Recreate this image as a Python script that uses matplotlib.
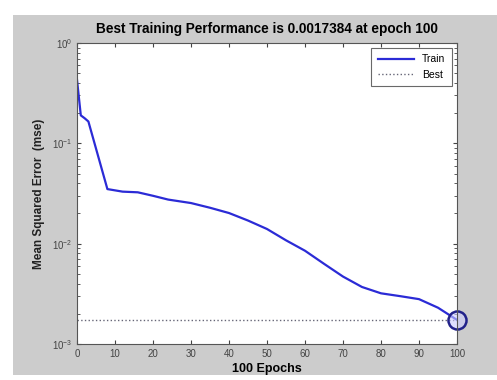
import matplotlib.pyplot as plt
import matplotlib.patches as mpatches

epochs = [0, 1, 2, 3, 8, 12, 16, 20, 24, 30, 35, 40, 45, 50, 55, 60,
          65, 70, 75, 80, 85, 90, 95, 100]
mse = [0.43, 0.19, 0.178, 0.165, 0.035, 0.033, 0.0325, 0.030, 0.0275,
       0.0254, 0.0228, 0.0202, 0.0170, 0.0140, 0.0108, 0.0085, 0.0063,
       0.0047, 0.0037, 0.0032, 0.0030, 0.0028, 0.0023, 0.0017384]
best_epoch = 100
best_mse = 0.0017384

plt.rcParams['font.family'] = ['Liberation Sans', 'DejaVu Sans']

fig = plt.figure(figsize=(4.97, 3.80), dpi=100)
fig.patch.set_facecolor('white')
# gray panel like the MATLAB window
fig.patches.append(mpatches.Rectangle((13 / 497, 5 / 380), 1 - 13 / 497, 1 - 20 / 380,
                                      transform=fig.transFigure, facecolor='#cccccc',
                                      edgecolor='none', zorder=-1))

ax = fig.add_axes([77 / 497, 1 - 344 / 380, 380 / 497, 301 / 380])
ax.set_facecolor('white')

ax.semilogy(epochs, mse, color='#2b2bd6', linewidth=1.6, label='Train')
ax.axhline(best_mse, color='#666677', linestyle=':', linewidth=1.0, label='Best')
ax.plot([best_epoch], [best_mse], 'o', markersize=13, markerfacecolor=(0.8, 0.8, 1, 0.6),
        markeredgecolor='#22228a', markeredgewidth=1.8, clip_on=False)

ax.set_xlim(0, 100)
ax.set_ylim(1e-3, 1e0)
ax.set_xticks(range(0, 101, 10))
ax.tick_params(which='both', direction='in', top=True, right=True, labelsize=7,
               colors='#444444', length=3)
ax.tick_params(which='minor', length=2)
for s in ax.spines.values():
    s.set_color('#555555')

ax.set_title('Best Training Performance is 0.0017384 at epoch 100',
             fontsize=9.8, fontweight='bold', pad=7)
ax.set_xlabel('100 Epochs', fontsize=9, fontweight='bold', labelpad=3)
ax.set_ylabel('Mean Squared Error  (mse)', fontsize=8.5, fontweight='bold',
              labelpad=5, color='#222222')

leg = ax.legend(loc='upper right', fontsize=7.5, fancybox=False, frameon=True,
                handlelength=3.5, borderaxespad=0.5, borderpad=0.6)
leg.get_frame().set_edgecolor('#444444')
leg.get_frame().set_linewidth(0.8)

fig.savefig('out.png', dpi=100)
